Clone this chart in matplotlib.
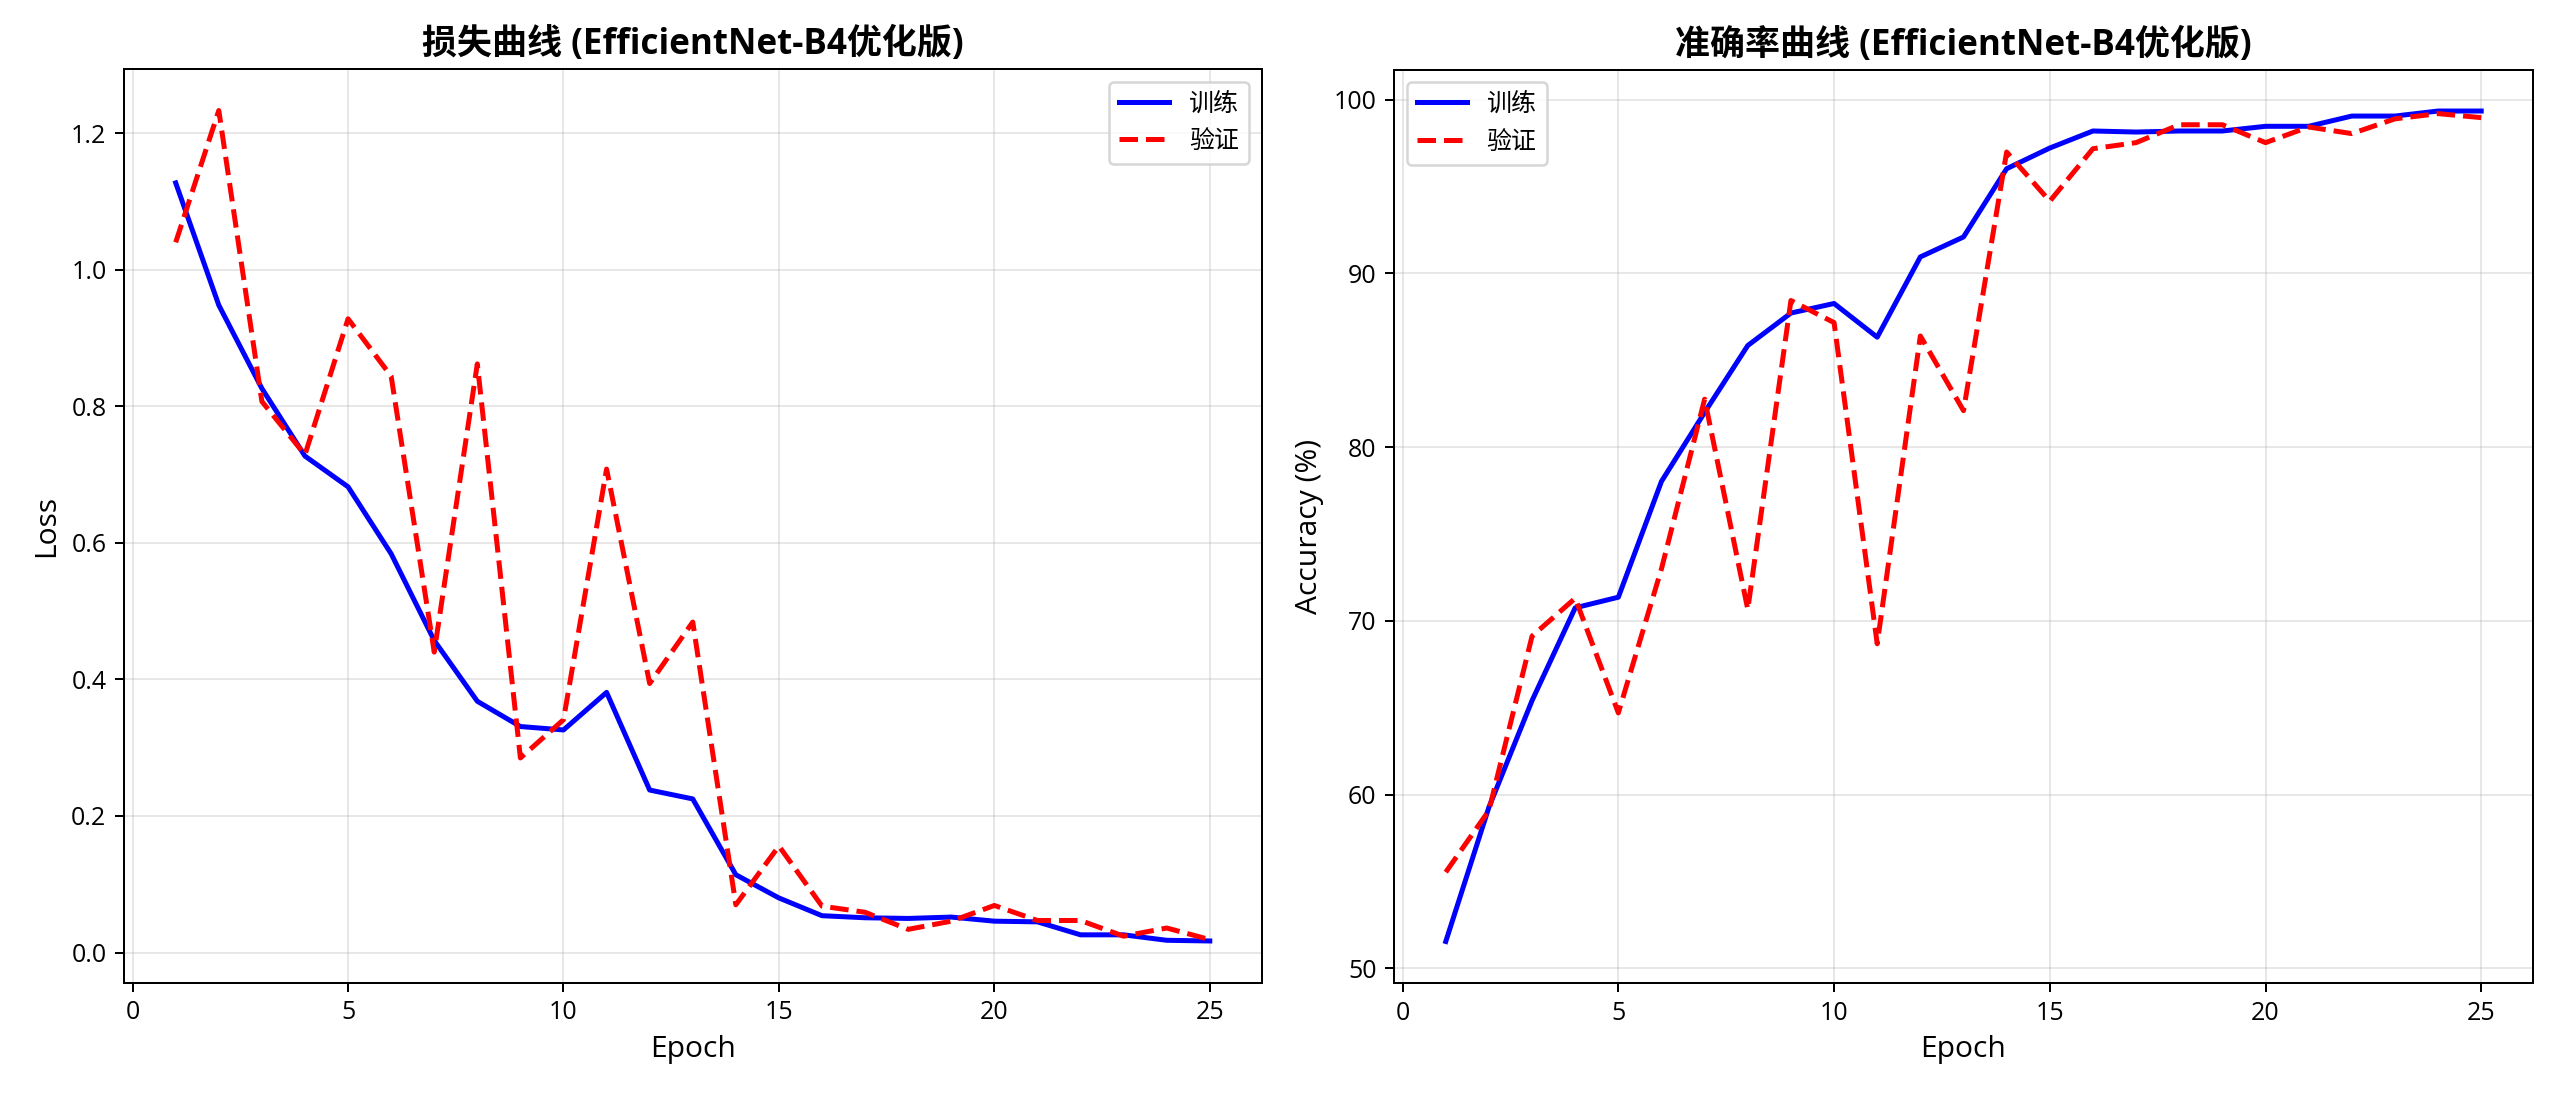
import matplotlib
matplotlib.use("Agg")
import matplotlib.pyplot as plt

plt.rcParams['font.family'] = ['Open Sans', 'Noto Sans CJK SC', 'DejaVu Sans']
plt.rcParams['axes.unicode_minus'] = False

epochs = list(range(1, 26))

train_loss = [1.127, 0.948, 0.826, 0.727, 0.682, 0.584, 0.457, 0.368, 0.331, 0.326,
              0.381, 0.238, 0.225, 0.114, 0.080, 0.054, 0.051, 0.050, 0.052, 0.046,
              0.045, 0.026, 0.026, 0.018, 0.017]
val_loss = [1.040, 1.233, 0.807, 0.729, 0.928, 0.844, 0.440, 0.862, 0.285, 0.341,
            0.708, 0.394, 0.484, 0.070, 0.156, 0.068, 0.059, 0.034, 0.046, 0.069,
            0.047, 0.047, 0.024, 0.036, 0.019]

train_acc = [51.54, 59.27, 65.41, 70.75, 71.36, 78.03, 82.00, 85.85, 87.72, 88.27,
             86.33, 90.95, 92.10, 96.03, 97.22, 98.20, 98.14, 98.20, 98.20, 98.47,
             98.47, 99.06, 99.06, 99.35, 99.35]
val_acc = [55.53, 59.08, 69.12, 71.30, 64.70, 73.00, 82.76, 70.66, 88.44, 87.17,
           68.68, 86.40, 82.10, 96.99, 94.16, 97.18, 97.53, 98.56, 98.56, 97.53,
           98.43, 98.05, 98.90, 99.20, 98.97]

title_loss = '损失曲线 (EfficientNet-B4优化版)'
title_acc = '准确率曲线 (EfficientNet-B4优化版)'
label_train = '训练'
label_val = '验证'

W, H = 2560, 1097
dpi = 180
fig = plt.figure(figsize=(W / dpi, H / dpi), dpi=dpi)

ax1 = fig.add_axes([124 / W, 1 - 982.5 / H, (1261.5 - 124) / W, (982.5 - 69) / H])
ax2 = fig.add_axes([1394 / W, 1 - 983 / H, (2533 - 1394) / W, (983 - 69.5) / H])

ax1.plot(epochs, train_loss, 'b-', linewidth=2, label=label_train)
ax1.plot(epochs, val_loss, 'r--', linewidth=2, label=label_val)
ax1.set_title(title_loss, fontsize=14, fontweight='bold')
ax1.set_xlabel('Epoch', fontsize=12)
ax1.set_ylabel('Loss', fontsize=12)
ax1.legend(loc='upper right', fontsize=10)
ax1.grid(True, alpha=0.3)
ax1.tick_params(labelsize=10)

ax2.plot(epochs, train_acc, 'b-', linewidth=2, label=label_train)
ax2.plot(epochs, val_acc, 'r--', linewidth=2, label=label_val)
ax2.set_title(title_acc, fontsize=14, fontweight='bold')
ax2.set_xlabel('Epoch', fontsize=12)
ax2.set_ylabel('Accuracy (%)', fontsize=12)
ax2.legend(loc='upper left', fontsize=10)
ax2.grid(True, alpha=0.3)
ax2.tick_params(labelsize=10)

fig.savefig('out.png', dpi=dpi)
